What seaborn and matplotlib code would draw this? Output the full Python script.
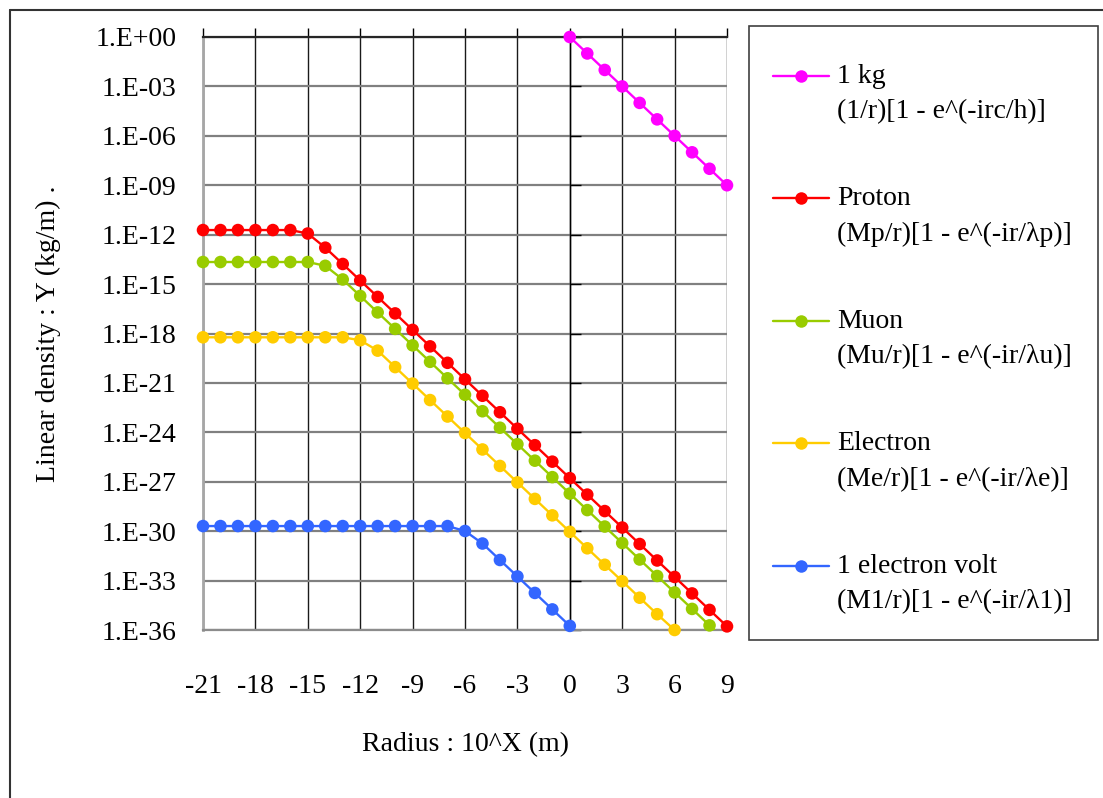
import numpy as np
import pandas as pd
import matplotlib
matplotlib.use("Agg")
import matplotlib.pyplot as plt
import seaborn as sns
from matplotlib.lines import Line2D
from matplotlib.patches import Rectangle
from matplotlib.ticker import FixedLocator, FuncFormatter, NullLocator

# ---------------- data (log10 of linear density, kg/m) ----------------
radius = [-21, -20, -19, -18, -17, -16, -15, -14, -13, -12, -11, -10, -9, -8, -7, -6,
          -5, -4, -3, -2, -1, 0, 1, 2, 3, 4, 5, 6, 7, 8, 9, 10]
kg_radius = [-1, 0, 1, 2, 3, 4, 5, 6, 7, 8, 9, 10]
kg_exp = [1, 0, -1, -2, -3, -4, -5, -6, -7, -8, -9, -10]
proton_exp = [-11.72, -11.72, -11.72, -11.72, -11.72, -11.72, -11.93, -12.79,
              -13.78, -14.78, -15.78, -16.78, -17.78, -18.78, -19.78, -20.78,
              -21.78, -22.78, -23.78, -24.78, -25.78, -26.78, -27.78, -28.78,
              -29.78, -30.78, -31.78, -32.78, -33.78, -34.78, -35.78, -36.78]
muon_exp = [-13.66, -13.66, -13.66, -13.66, -13.66, -13.66, -13.66, -13.89,
            -14.72, -15.72, -16.72, -17.72, -18.72, -19.72, -20.72, -21.72,
            -22.72, -23.72, -24.72, -25.72, -26.72, -27.72, -28.72, -29.72,
            -30.72, -31.72, -32.72, -33.72, -34.72, -35.72, -36.72, -37.72]
electron_exp = [-18.23, -18.23, -18.23, -18.23, -18.23, -18.23, -18.23, -18.23,
                -18.23, -18.41, -19.04, -20.04, -21.04, -22.04, -23.04, -24.04,
                -25.04, -26.04, -27.04, -28.04, -29.04, -30.04, -31.04, -32.04,
                -33.04, -34.04, -35.04, -36.0, -37.04, -38.04, -39.04, -40.04]
ev_exp = [-29.69, -29.69, -29.69, -29.69, -29.69, -29.69, -29.69, -29.69,
          -29.69, -29.69, -29.69, -29.69, -29.69, -29.69, -29.69, -29.99,
          -30.75, -31.75, -32.75, -33.75, -34.75, -35.75, -36.75, -37.75,
          -38.75, -39.75, -40.75, -41.75, -42.75, -43.75, -44.75, -45.75]

series_names = ["1 kg", "Proton", "Muon", "Electron", "1 electron volt"]
formulas = ["(1/r)[1 - e^(-irc/h)]", "(Mp/r)[1 - e^(-ir/λp)]",
            "(Mu/r)[1 - e^(-ir/λu)]", "(Me/r)[1 - e^(-ir/λe)]",
            "(M1/r)[1 - e^(-ir/λ1)]"]
colors = ["#FF00FF", "#FF0000", "#99CC00", "#FFCC00", "#3366FF"]
x_ticks = [-21, -18, -15, -12, -9, -6, -3, 0, 3, 6, 9]
y_tick_exps = [0, -3, -6, -9, -12, -15, -18, -21, -24, -27, -30, -33, -36]
x_label = "Radius : 10^X (m)"
y_label = "Linear density : Y (kg/m) ."

# ---------------- build frame ----------------
xs_list = [kg_radius, radius, radius, radius, radius]
exps_list = [kg_exp, proton_exp, muon_exp, electron_exp, ev_exp]
frames = []
for name, xs, ex in zip(series_names, xs_list, exps_list):
    frames.append(pd.DataFrame({"radius": xs,
                                "density": 10.0 ** np.array(ex, dtype=float),
                                "series": name}))
df = pd.concat(frames, ignore_index=True)
palette = dict(zip(series_names, colors))

sns.set_theme(style="white")
plt.rcParams['font.family'] = ['Liberation Serif', 'DejaVu Serif']
FS = 20

W, H = 1103, 798
fig = plt.figure(figsize=(W / 100, H / 100), dpi=100)
L, R, T, B = 203, 727, 37, 630
ax = fig.add_axes([L / W, 1 - B / H, (R - L) / W, (B - T) / H])
ax.set_yscale('log')

sns.lineplot(data=df, x="radius", y="density", hue="series", hue_order=series_names,
             palette=palette, linewidth=1.7, legend=False, ax=ax,
             estimator=None, sort=False, zorder=3)

ymin, ymax = 10.0 ** y_tick_exps[-1], 10.0 ** y_tick_exps[0]
xmin, xmax = x_ticks[0], x_ticks[-1]
inr = df[(df.radius >= xmin) & (df.radius <= xmax) &
         (df.density >= ymin * 0.98) & (df.density <= ymax * 1.02)]
sns.scatterplot(data=inr, x="radius", y="density", hue="series", hue_order=series_names,
                palette=palette, s=82, linewidth=0, legend=False, ax=ax,
                clip_on=False, zorder=4)

ax.set_xlim(xmin, xmax)
ax.set_ylim(ymin, ymax)
ax.xaxis.set_major_locator(FixedLocator(x_ticks))
ax.yaxis.set_major_locator(FixedLocator([10.0 ** e for e in y_tick_exps]))
ax.yaxis.set_minor_locator(NullLocator())
ax.xaxis.set_minor_locator(NullLocator())
ax.yaxis.set_major_formatter(FuncFormatter(
    lambda v, p: "1.E{:+03d}".format(int(round(np.log10(v))))))
ax.xaxis.set_major_formatter(FuncFormatter(lambda v, p: "{:d}".format(int(round(v)))))

ax.grid(True, axis='x', color='#1a1a1a', linewidth=1.0)
ax.grid(True, axis='y', color='#808080', linewidth=1.6)
ax.set_axisbelow(True)

ax.spines['left'].set_color('#a6a6a6'); ax.spines['left'].set_linewidth(2.0)
ax.spines['bottom'].set_color('#8c8c8c'); ax.spines['bottom'].set_linewidth(1.6)
ax.spines['top'].set_color('#262626'); ax.spines['top'].set_linewidth(1.6)
ax.spines['right'].set_position(('data', 0))
ax.spines['right'].set_color('black'); ax.spines['right'].set_linewidth(1.0)

ax.tick_params(axis='x', which='major', bottom=False, top=True, labelbottom=True,
               labeltop=False, direction='out', length=6.5, width=1.0,
               color='black', pad=25, labelsize=FS, labelcolor='black')
ax.tick_params(axis='y', which='major', left=False, right=True, labelleft=True,
               labelright=False, direction='out', length=8, width=1.0,
               color='black', pad=11, labelsize=FS, labelcolor='black')

ax.set_xlabel(x_label, fontsize=FS, color='black', labelpad=24)
ax.set_ylabel(y_label, fontsize=FS, color='black', labelpad=25)

# outer chart frame (top and left edges visible)
fig.add_artist(Line2D([10 / W, 10 / W], [0, 1 - 10 / H], transform=fig.transFigure,
                      color='#333333', linewidth=1.5))
fig.add_artist(Line2D([10 / W, 1], [1 - 10 / H, 1 - 10 / H], transform=fig.transFigure,
                      color='#333333', linewidth=1.5))

# legend box
fig.add_artist(Rectangle((749 / W, 1 - 640 / H), (1098 - 749) / W, (640 - 26) / H,
                         transform=fig.transFigure, fill=False,
                         edgecolor='#404040', linewidth=1.2))
handles = [Line2D([], [], color=c, marker='o', markersize=9, markeredgewidth=0,
                  linewidth=1.7) for c in colors]
labels = ["\n{}\n{}".format(n, f) for n, f in zip(series_names, formulas)]
leg = fig.legend(handles, labels, loc='upper left',
                 bbox_to_anchor=(773 / W, 1 - 28 / H), frameon=False,
                 handlelength=2.0, handletextpad=0.3, borderpad=0,
                 borderaxespad=0, labelspacing=0.94, fontsize=FS)
for t in leg.get_texts():
    t.set_linespacing(1.56)
    t.set_color('black')

fig.savefig("out.png", dpi=100)
